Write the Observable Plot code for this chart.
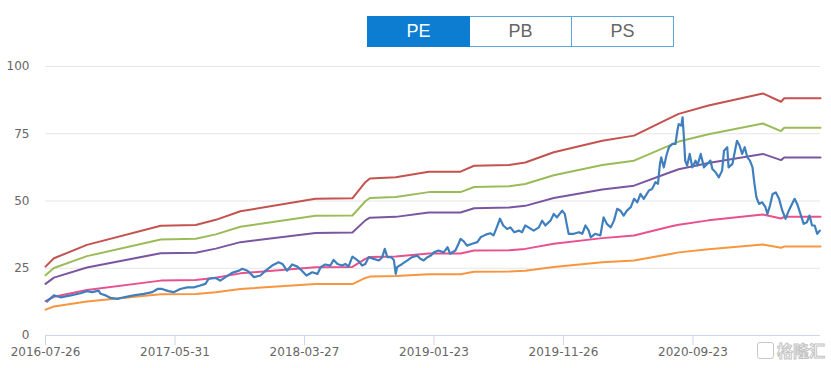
<!DOCTYPE html>
<html>
<head>
<meta charset="utf-8">
<script src="https://cdn.jsdelivr.net/npm/d3@7"></script>
<script src="https://cdn.jsdelivr.net/npm/@observablehq/plot@0.6"></script>
<style>
  html, body { margin: 0; padding: 0; background: #fff; }
  #wrap { position: relative; width: 831px; height: 368px; overflow: hidden; }
  #btns { position: absolute; left: 367px; top: 16px; display: flex; font-family: "Liberation Sans", Arial, sans-serif; font-size: 18px; }
  #btns div { width: 101px; height: 29px; line-height: 29px; text-align: center; border: 1px solid #5aa7e0; color: #666; background: #fff; box-sizing: content-box; }
  #btns div + div { border-left: none; }
  #btns div.on { background: #0c7dd0; color: #fff; border-color: #0c7dd0; }
  #wm { position: absolute; left: 757px; top: 341px; display: flex; align-items: center; }
  #wm .ico { width: 15px; height: 15px; border: 1.5px solid #c8c8c8; border-radius: 3px; margin-right: 3px; }
  #wm .txt { font-family: "Noto Sans CJK SC", sans-serif; font-size: 16px; line-height: 18px; color: #fff; -webkit-text-stroke: 1px #c4c4c4; font-weight: bold; }
</style>
</head>
<body>
<div id="wrap">
  <div id="chart"></div>
  <div id="btns"><div class="on">PE</div><div>PB</div><div>PS</div></div>
  <div id="wm"><div class="ico"></div><div class="txt">格隆汇</div></div>
</div>
<script>
// x tick labels (category axis of trading days)
const tickLabels = ["2016-07-26", "2017-05-31", "2018-03-27", "2019-01-23", "2019-11-26", "2020-09-23"];
const tickIdx = [0, 200, 400, 600, 800, 1000];
const lastIdx = 1197;
const yTicks = [0, 25, 50, 75, 100];

// PE band lines (breakpoints by trading-day index)
const bandIdx = [0, 13, 64, 178, 232, 263, 301, 417, 474, 494, 501, 541, 592, 641, 662, 716, 741, 785, 860, 909, 965, 978, 1024, 1108, 1136, 1141, 1197];
const band24 = [25.6, 28.7, 33.7, 40.8, 41.1, 43.0, 46.2, 50.8, 51.0, 57.0, 58.4, 58.8, 60.9, 60.9, 63.1, 63.4, 64.3, 68.1, 72.4, 74.3, 80.9, 82.4, 85.5, 90.0, 86.9, 88.2, 88.2];
const band21 = [22.4, 25.1, 29.5, 35.7, 36.0, 37.6, 40.4, 44.5, 44.6, 49.9, 51.1, 51.5, 53.3, 53.3, 55.2, 55.5, 56.3, 59.6, 63.4, 65.0, 70.8, 72.1, 74.8, 78.8, 76.0, 77.2, 77.2];
const band18 = [19.2, 21.5, 25.3, 30.6, 30.8, 32.3, 34.7, 38.1, 38.3, 42.8, 43.8, 44.1, 45.7, 45.7, 47.3, 47.6, 48.2, 51.1, 54.3, 55.7, 60.7, 61.8, 64.1, 67.5, 65.2, 66.2, 66.2];
const band12 = [12.8, 14.4, 16.9, 20.4, 20.6, 21.5, 23.1, 25.4, 25.5, 28.5, 29.2, 29.4, 30.5, 30.5, 31.6, 31.7, 32.2, 34.1, 36.2, 37.2, 40.5, 41.2, 42.8, 45.0, 43.5, 44.1, 44.1];
const band9  = [9.6, 10.8, 12.6, 15.3, 15.4, 16.1, 17.3, 19.1, 19.1, 21.4, 21.9, 22.1, 22.8, 22.8, 23.7, 23.8, 24.1, 25.5, 27.2, 27.9, 30.3, 30.9, 32.1, 33.8, 32.6, 33.1, 33.1];

// PE (TTM) series
const peIdx = [2, 13, 23, 39, 54, 64, 72, 82, 85, 93, 100, 111, 121, 136, 152, 165, 173, 180, 190, 198, 208, 219, 229, 239,
  247, 252, 263, 270, 278, 288, 299, 304, 312, 322, 332, 340, 350, 360, 366, 373, 381, 389, 396, 403, 412, 420, 425, 432, 440, 445, 451, 458, 463, 468, 474, 479, 484, 489, 494,
  499, 507, 515, 520, 524, 528, 534, 538, 541, 543, 551, 559, 566, 574, 579, 584, 590, 595, 600, 607, 615, 621, 625, 633, 638, 641, 646, 651, 659, 667, 672, 680, 687, 692, 697, 702, 707, 713, 718, 724, 731, 736,
  741, 746, 754, 762, 767, 772, 780, 785, 790, 798, 802, 806, 808, 816, 824, 829, 834, 839, 842, 849, 857, 862, 867, 873, 878, 883, 888, 893, 898, 904, 909, 914, 919, 924, 932, 937, 942, 946, 949, 951, 955, 959, 963,
  968, 973, 976, 978, 982, 984, 986, 988, 991, 995, 999, 1004, 1007, 1012, 1017, 1022, 1027, 1030, 1035, 1040, 1045, 1048, 1053, 1055, 1061, 1066, 1068, 1072, 1076, 1080, 1084, 1088, 1092, 1095, 1098, 1102, 1107,
  1112, 1115, 1119, 1123, 1128, 1133, 1138, 1143, 1148, 1153, 1157, 1161, 1166, 1171, 1176, 1180, 1184, 1188, 1192, 1196];
const peVal = [12.6, 14.9, 14.2, 14.9, 15.7, 16.5, 16.1, 16.7, 15.5, 14.9, 14.0, 13.6, 14.2, 14.9, 15.5, 16.1, 17.3, 17.3, 16.5, 16.1, 17.3, 17.9, 17.9, 18.6,
  19.2, 21.1, 21.4, 20.4, 21.7, 23.3, 24.1, 24.8, 24.1, 21.7, 22.3, 24.1, 26.0, 27.2, 26.6, 24.1, 26.4, 25.6, 24.1, 22.3, 23.5, 22.9, 25.4, 26.4, 26.0, 28.1, 26.6, 26.0, 26.6, 25.6, 29.3, 28.5, 27.6, 26.0, 26.6,
  29.1, 28.5, 27.9, 29.1, 32.2, 29.1, 29.1, 28.1, 22.9, 25.4, 26.6, 27.9, 29.1, 29.7, 28.5, 27.9, 29.1, 29.7, 30.9, 31.6, 30.9, 32.8, 30.4, 31.6, 34.1, 35.9, 35.0, 33.4, 34.1, 34.7, 36.5, 37.5, 38.0, 37.2, 40.2, 43.4, 40.9, 39.6, 40.2, 38.4, 39.0, 38.4,
  40.9, 40.2, 39.0, 40.2, 42.7, 40.9, 42.7, 45.2, 43.9, 46.4, 45.2, 40.2, 37.8, 37.8, 38.4, 37.8, 40.9, 39.0, 36.5, 37.8, 37.2, 43.9, 41.5, 40.2, 42.7, 47.1, 46.4, 44.6, 46.4, 47.7, 50.8, 49.5, 52.6, 50.8, 53.9, 54.5, 57.0, 56.4, 63.8, 66.2, 62.5, 66.9, 70.0,
  71.2, 71.2, 76.2, 78.6, 78.0, 81.1, 73.7, 65.0, 63.2, 67.5, 62.5, 65.0, 63.2, 67.5, 62.5, 63.8, 65.0, 61.9, 60.7, 58.8, 61.3, 68.7, 70.0, 62.5, 63.8, 70.0, 72.4, 70.6, 67.5, 70.0, 66.2, 65.0, 62.5, 56.4, 51.4, 48.9, 49.5,
  47.7, 45.2, 48.3, 52.6, 53.2, 50.8, 46.4, 43.4, 46.4, 48.9, 50.8, 48.9, 45.2, 41.5, 42.1, 44.6, 40.9, 40.9, 37.8, 39.0];

const bandSeries = [
  {name: "24x", vals: band24, color: "#c4524e"},
  {name: "21x", vals: band21, color: "#9bbb59"},
  {name: "18x", vals: band18, color: "#7b56a0"},
  {name: "12x", vals: band12, color: "#e9508e"},
  {name: "9x",  vals: band9,  color: "#f7963f"}
];
const bandData = bandSeries.flatMap(s => bandIdx.map((x, i) => ({x, y: s.vals[i], name: s.name})));
const peData = peIdx.map((x, i) => ({x, y: peVal[i]}));

const chart = Plot.plot({
  width: 831,
  height: 368,
  marginTop: 66,
  marginBottom: 33,
  marginLeft: 45,
  marginRight: 11,
  style: {fontFamily: "'DejaVu Sans', Verdana, sans-serif", fontSize: "12px", color: "#666", background: "transparent"},
  x: {domain: [0, lastIdx], label: null},
  y: {domain: [0, 100], label: null},
  color: {domain: bandSeries.map(s => s.name), range: bandSeries.map(s => s.color)},
  marks: [
    Plot.ruleY(yTicks, {stroke: "#e6e6e6", strokeWidth: 1}),
    Plot.axisY(yTicks, {tickSize: 0, tickPadding: 16, fill: "#666", fontSize: 12, label: null}),
    Plot.ruleY([0], {stroke: "#ccd6eb", strokeWidth: 1}),
    Plot.axisX(tickIdx, {tickSize: 10, tickPadding: 2, stroke: "#ccd6eb", fill: "#666", fontSize: 12, label: null,
      tickFormat: d => tickLabels[tickIdx.indexOf(d)]}),
    Plot.line(bandData, {x: "x", y: "y", z: "name", stroke: "name", strokeWidth: 2}),
    Plot.line(peData, {x: "x", y: "y", stroke: "#3f7fbe", strokeWidth: 2.2})
  ]
});
document.getElementById("chart").appendChild(chart);
</script>
</body>
</html>
